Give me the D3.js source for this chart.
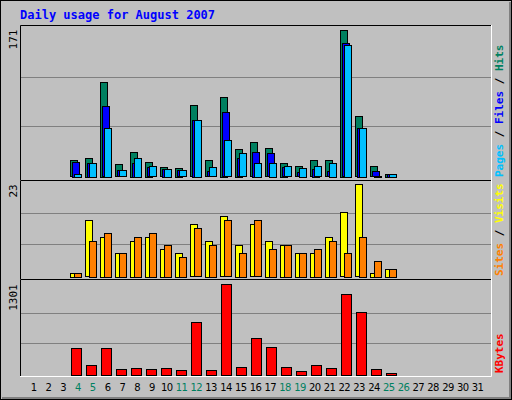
<!DOCTYPE html>
<html><head><meta charset="utf-8">
<script src="https://cdn.jsdelivr.net/npm/d3@7"></script>
<style>body{margin:0;background:#fff}</style>
</head><body><main></main>
<script>
// values, days 1..31 (0 = no traffic)
const days = d3.range(1, 32)
const hits   = [0,0,0,19,22,110,14,29,17,11,10,83,19,93,32,40,33,16,12,19,19,171,70,12,3,0,0,0,0,0,0]
const files  = [0,0,0,17,16,82,7,16,11,9,7,66,6,75,21,29,27,11,5,9,6,155,57,6,3,0,0,0,0,0,0]
const pages  = [0,0,0,3,16,57,7,22,12,9,7,66,11,42,27,16,16,12,10,12,16,153,57,1,3,0,0,0,0,0,0]
const visits = [0,0,0,1,14,10,6,9,10,7,6,13,9,15,8,13,9,8,6,6,10,16,23,1,2,0,0,0,0,0,0]
const sites  = [0,0,0,1,9,11,6,10,11,8,5,12,8,14,6,14,7,8,6,7,9,6,10,4,2,0,0,0,0,0,0]
const kbytes = [0,0,0,389,147,389,90,104,90,104,76,760,76,1301,119,532,404,119,62,147,104,1159,902,90,33,0,0,0,0,0,0]
const weekend = [4,5,11,12,18,19,25,26]

const W = 512, H = 400
const left = 20, right = 491
const mono = "'DejaVu Sans Mono', monospace"

let svg = d3.select("main").append("svg")
    .attr("width", W).attr("height", H)
    .style("display", "block")

svg.append("rect").attr("x", 0.5).attr("y", 0.5).attr("width", W - 1).attr("height", H - 1)
    .attr("fill", "#c0c0c0").attr("stroke", "#000")
svg.append("path").attr("d", `M2,${H - 2}H${W - 2}V2`).attr("stroke", "#808080").attr("fill", "none").attr("stroke-width", 2)

svg.append("text").attr("x", 20).attr("y", 19)
    .attr("fill", "#0000ff").style("font", `bold 12px ${mono}`)
    .text("Daily usage for August 2007")

let xBand = d3.scaleBand().domain(days).range([21, 486])
let xLabel = d3.scalePoint().domain(days).range([33, 477])

// panels: top/bottom y and max value
let panels = [
  {top: 25, bottom: 180, base: 176.5, peak: 29.5, max: 171, series: [[hits, "#008060", 0], [files, "#0000ff", 2], [pages, "#00c0ff", 4]], w: 7,
   labels: [["Pages", "#00c0ff"], [" / ", "#000"], ["Files", "#0000ff"], [" / ", "#000"], ["Hits", "#008060"]]},
  {top: 180, bottom: 279, base: 276.7, peak: 184.3, max: 23, series: [[visits, "#ffff00", 0], [sites, "#ff8000", 4]], w: 7,
   labels: [["Sites", "#ff8000"], [" / ", "#000"], ["Visits", "#ffff00"]]},
  {top: 279, bottom: 376, base: 375.7, peak: 284.3, max: 1301, series: [[kbytes, "#ff0000", 1]], w: 10,
   labels: [["KBytes", "#ff0000"]]}
]

panels.forEach(p => {
  let y = d3.scaleLinear().domain([0, p.max]).range([p.base, p.peak])

  // grid lines at thirds
  svg.append("g").selectAll("line")
    .data([p.max / 3, p.max * 2 / 3])
    .enter().append("line")
      .attr("x1", left).attr("x2", right)
      .attr("y1", d => Math.round(y(d)) - 1.5).attr("y2", d => Math.round(y(d)) - 1.5)
      .attr("stroke", "#808080")

  p.series.forEach(([vals, col, off]) => {
    svg.append("g").selectAll("rect")
      .data(days.filter((d, i) => vals[i] > 0))
      .enter().append("rect")
        .attr("x", d => xBand(d) + 4 + off + 0.5)
        .attr("y", d => Math.round(y(vals[d - 1])) + 0.5)
        .attr("width", p.w)
        .attr("height", d => Math.max(1, Math.round(p.base - y(vals[d - 1]))))
        .attr("fill", col).attr("stroke", "#000")
  })

  // frame
  svg.append("path").attr("d", `M${left + 0.5},${p.bottom}V${p.top + 0.5}H${right}`)
    .attr("stroke", "#000").attr("fill", "none")
  svg.append("path").attr("d", `M${right + 0.5},${p.top}V${p.bottom + 0.5}H${left}`)
    .attr("stroke", "#fff").attr("fill", "none")

  svg.append("text")
    .attr("transform", `translate(17, ${p.peak}) rotate(-90)`)
    .attr("text-anchor", "end")
    .style("font", `11px ${mono}`)
    .text(p.max)

  let t = svg.append("text")
    .attr("transform", `translate(503, ${p.bottom - 3}) rotate(-90)`)
    .style("font", `bold 11px ${mono}`)
  p.labels.forEach(([s, c]) => t.append("tspan").attr("fill", c).text(s))
})

let xAxis = svg.append("g").attr("transform", "translate(0, 376)")
    .call(d3.axisBottom(xLabel).tickSize(0).tickPadding(8))
xAxis.select(".domain").remove()
xAxis.selectAll("text")
    .style("font", "10px 'DejaVu Sans'")
    .style("letter-spacing", "-0.6px")
    .attr("fill", d => weekend.includes(d) ? "#008060" : "#000")
</script>
</body></html>
